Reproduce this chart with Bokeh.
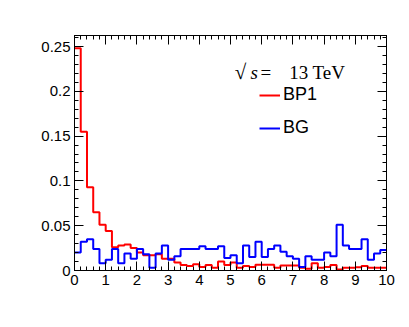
import numpy as np
from bokeh.plotting import figure
from bokeh.models import (Range1d, FixedTicker, LinearAxis, Legend, LegendItem, Label)
from bokeh.embed import file_html
from bokeh.resources import INLINE

# ---------------- data ----------------
bin_edges = [round(0.2 * i, 1) for i in range(51)]
bp1 = [0.248, 0.155, 0.093, 0.065, 0.051, 0.044, 0.026, 0.028, 0.029, 0.025,
       0.020, 0.017, 0.017, 0.018, 0.013, 0.013, 0.009, 0.006, 0.005, 0.007,
       0.004, 0.006, 0.003, 0.010, 0.006, 0.009, 0.003, 0.005, 0.004, 0.0065,
       0.0065, 0.0065, 0.003, 0.0055, 0.0055, 0.0055, 0.003, 0.002, 0.008, 0.003,
       0.004, 0.006, 0.001, 0.003, 0.003, 0.0035, 0.005, 0.003, 0.003, 0.003]
bg = [0.020, 0.032, 0.035, 0.024, 0.008, 0.012, 0.024, 0.008, 0.019, 0.013,
      0.024, 0.018, 0.003, 0.019, 0.028, 0.012, 0.016, 0.024, 0.024, 0.024,
      0.027, 0.024, 0.024, 0.027, 0.014, 0.017, 0.008, 0.028, 0.015, 0.032,
      0.015, 0.024, 0.028, 0.021, 0.016, 0.013, 0.004, 0.016, 0.012, 0.012,
      0.020, 0.016, 0.051, 0.028, 0.024, 0.024, 0.035, 0.012, 0.019, 0.023]
series_names = ["BP1", "BG"]
series_colors = ["#ff0000", "#0000ff"]
x_ticks = [0, 1, 2, 3, 4, 5, 6, 7, 8, 9, 10]
x_tick_labels = ["0", "1", "2", "3", "4", "5", "6", "7", "8", "9", "10"]
y_ticks = [0, 0.05, 0.1, 0.15, 0.2, 0.25]
y_tick_labels = ["0", "0.05", "0.1", "0.15", "0.2", "0.25"]
energy_value = "13"
energy_unit = "TeV"

FONT = "Liberation Sans"
SERIF = "Liberation Serif"

p = figure(width=400, height=310, output_backend="svg", toolbar_location=None,
           x_range=Range1d(0, 10), y_range=Range1d(0, 0.2623),
           x_axis_type=None, y_axis_type=None,
           min_border_left=74, min_border_right=14, min_border_top=35,
           min_border_bottom=40)
p.grid.visible = False
p.outline_line_color = "black"
p.outline_line_width = 1
p.background_fill_color = "white"
p.border_fill_color = "white"

x_minor = [round(0.2 * i, 1) for i in range(51)]
y_minor = [round(0.01 * i, 2) for i in range(27)]


def make_axis(kind, show_labels):
    ax = LinearAxis()
    if kind == "x":
        ax.ticker = FixedTicker(ticks=x_ticks, minor_ticks=x_minor)
        ax.major_label_overrides = {t: l for t, l in zip(x_ticks, x_tick_labels)}
    else:
        ax.ticker = FixedTicker(ticks=y_ticks, minor_ticks=y_minor)
        ax.major_label_overrides = {t: l for t, l in zip(y_ticks, y_tick_labels)}
    ax.major_tick_in = 9
    ax.major_tick_out = 0
    ax.minor_tick_in = 4
    ax.minor_tick_out = 0
    ax.axis_line_color = "black"
    ax.major_tick_line_color = "black"
    ax.minor_tick_line_color = "black"
    ax.major_label_text_font = FONT
    ax.major_label_text_font_size = "15px"
    ax.major_label_text_color = "black" if show_labels else None
    ax.major_label_standoff = 4
    return ax


p.add_layout(make_axis("x", True), "below")
p.add_layout(make_axis("y", True), "left")
p.add_layout(make_axis("x", False), "above")
p.add_layout(make_axis("y", False), "right")

items = []
for name, vals, col in zip(series_names, [bp1, bg], series_colors):
    yv = list(vals) + [vals[-1]]
    r = p.step(x=bin_edges, y=yv, mode="after", line_color=col, line_width=2)
    items.append(LegendItem(label=name, renderers=[r]))

legend = Legend(items=items, location=(185, 132), border_line_alpha=0,
                background_fill_alpha=0, label_text_font=FONT,
                label_text_color="black",
                label_text_font_size="18px", glyph_width=21, glyph_height=20,
                label_height=20, spacing=12, padding=0, margin=0,
                label_standoff=3)
p.add_layout(legend)

# sqrt(s) = 13 TeV
base_y = 0.2215
for txt, xpos, style, size in [("√", 5.14, "normal", "21px"),
                               ("s", 5.64, "italic", "19px"),
                               ("=", 5.96, "normal", "19px"),
                               (energy_value, 6.88, "normal", "19px"),
                               (energy_unit, 7.63, "normal", "19px")]:
    p.add_layout(Label(x=xpos, y=base_y, text=txt, text_font=SERIF,
                       text_font_style=style, text_font_size=size,
                       text_color="black", text_baseline="alphabetic"))

open("out.html", "w").write(file_html(p, INLINE))
